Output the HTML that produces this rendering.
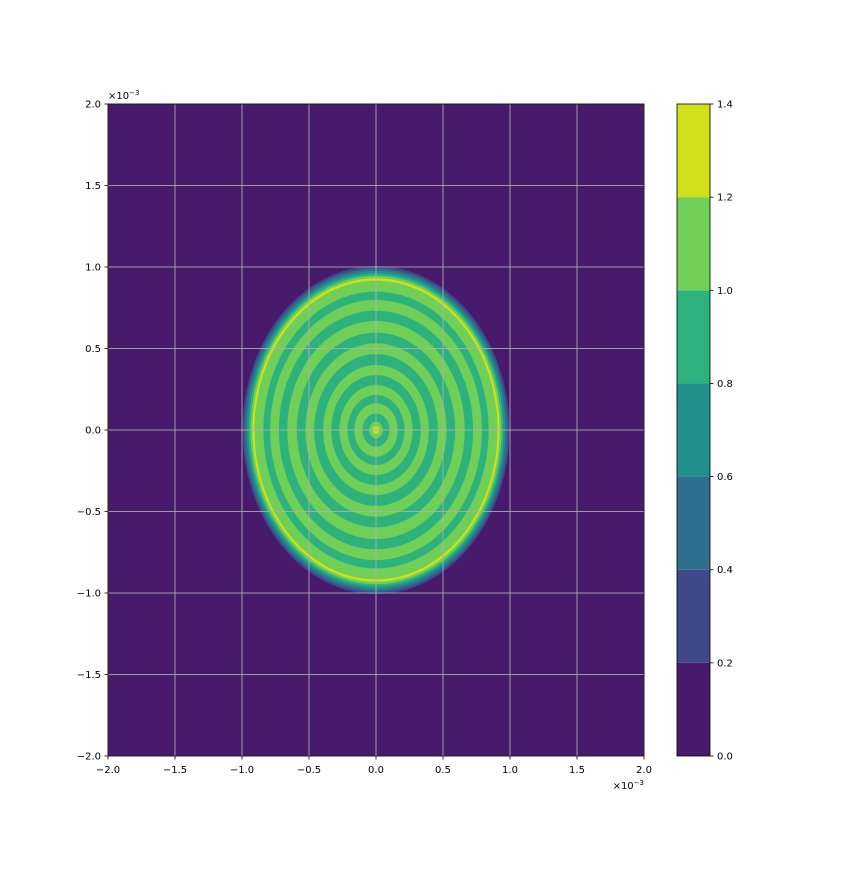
<!DOCTYPE html>
<html><head><meta charset="utf-8"><style>
html,body{margin:0;padding:0;background:#fff;}
svg text{font-family:"DejaVu Sans","Liberation Sans",sans-serif;font-size:10px;fill:#000;}
</style></head><body>
<svg id="chart" width="864" height="864" viewBox="0 0 864 864" xmlns="http://www.w3.org/2000/svg">
<rect width="864" height="864" fill="#fff"/>
<g id="plot"></g>
<g id="axes"></g>
<g id="cbar"></g>
</svg>
<script>
// data (radius in units of 1e-3, level index into levelColors)
const ringRadii = [1.006,0.991,0.976,0.961,0.946,0.931,0.916,0.849,0.798,0.732,0.669,0.597,0.532,0.466,0.399,0.337,0.276,0.215,0.164,0.102,0.051,0.025];
const ringLevels = [1,2,3,4,5,6,5,4,5,4,5,4,5,4,5,4,5,4,5,4,5,6];
const levelBounds = [0,0.2,0.4,0.6,0.8,1.0,1.2,1.4];
const levelColors = ["#481a6c","#3f4889","#2e6e8e","#21908d","#2db27d","#70cf57","#d0e11c"];
const xTicks = [-2,-1.5,-1,-0.5,0,0.5,1,1.5,2];
const yTicks = [-2,-1.5,-1,-0.5,0,0.5,1,1.5,2];
const cbTicks = [0,0.2,0.4,0.6,0.8,1.0,1.2,1.4];

const NS="http://www.w3.org/2000/svg";
const L=108,R=644,T=104,B=756;
const xs=v=>L+(v+2)/4*(R-L);
const ys=v=>B-(v+2)/4*(B-T);
const xAspect=0.99;
function mk(tag,attrs,parent){const e=document.createElementNS(NS,tag);for(const k in attrs)e.setAttribute(k,attrs[k]);parent.appendChild(e);return e;}
const plot=document.getElementById('plot'),axes=document.getElementById('axes'),cbar=document.getElementById('cbar');

let bg=mk('rect',{x:L,y:T,width:R-L,height:B-T,fill:levelColors[0]},plot);


ringRadii.forEach((r,i)=>{
  const e=mk('ellipse',{cx:xs(0),cy:ys(0),rx:(xs(r)-xs(0))*xAspect,ry:ys(0)-ys(r),fill:levelColors[ringLevels[i]]},plot);
  
  
});
const fmt=v=>(v<0?"\u2212":"")+Math.abs(v).toFixed(1);
xTicks.forEach(v=>{
  const g=mk('line',{x1:xs(v),x2:xs(v),y1:T,y2:B,stroke:"#b0b0b0","stroke-opacity":0.85,"stroke-width":1},axes);
  
  
  mk('line',{x1:xs(v),x2:xs(v),y1:B,y2:B+3.5,stroke:"#000","stroke-width":0.8},axes);
  const t=mk('text',{x:xs(v),y:B+17,"text-anchor":"middle"},axes);t.textContent=fmt(v);
  
  
});
yTicks.forEach(v=>{
  const g=mk('line',{x1:L,x2:R,y1:ys(v),y2:ys(v),stroke:"#b0b0b0","stroke-opacity":0.85,"stroke-width":1},axes);
  
  
  mk('line',{x1:L-3.5,x2:L,y1:ys(v),y2:ys(v),stroke:"#000","stroke-width":0.8},axes);
  const t=mk('text',{x:L-7,y:ys(v)+3.5,"text-anchor":"end"},axes);t.textContent=fmt(v);
  
  
});
let fr=mk('rect',{x:L,y:T,width:R-L,height:B-T,fill:"none",stroke:"#000","stroke-width":0.8},axes);


let o1=mk('text',{x:L,y:T-5},axes);o1.innerHTML='×10<tspan dy="-4" font-size="7">−3</tspan>';


let o2=mk('text',{x:R,y:B+33,"text-anchor":"end"},axes);o2.innerHTML='×10<tspan dy="-4" font-size="7">−3</tspan>';



const CL=677,CR=710,cmax=levelBounds[levelBounds.length-1];
const cy=v=>B-v/cmax*(B-T);
levelColors.forEach((c,i)=>{
  const r=mk('rect',{x:CL,y:cy(levelBounds[i+1]),width:CR-CL,height:cy(levelBounds[i])-cy(levelBounds[i+1]),fill:c},cbar);
  
  
});
let cf=mk('rect',{x:CL,y:T,width:CR-CL,height:B-T,fill:"none",stroke:"#000","stroke-width":0.8},cbar);


cbTicks.forEach(v=>{
  mk('line',{x1:CR,x2:CR+3.5,y1:cy(v),y2:cy(v),stroke:"#000","stroke-width":0.8},cbar);
  const t=mk('text',{x:CR+7,y:cy(v)+3.5},cbar);t.textContent=v.toFixed(1);
  
  
});
</script>
</body></html>
